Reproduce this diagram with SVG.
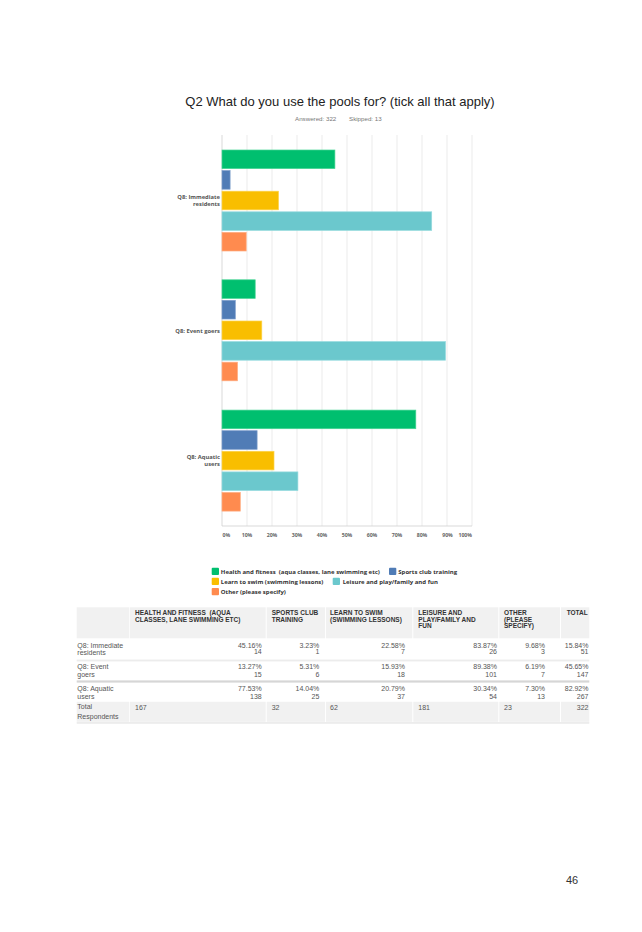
<svg xmlns="http://www.w3.org/2000/svg" width="642" height="932" viewBox="0 0 642 932">
<style>
.title{font-family:"Liberation Sans",Arial,sans-serif;font-size:13px;fill:#222}
.sub{font-family:"Liberation Sans",Arial,sans-serif;font-size:6.2px;fill:#777}
.grid{stroke:#e6e6e6;stroke-width:0.8}
.axis{stroke:#cfcfcf;stroke-width:0.8}
.lbl{font-family:"Open Sans","Liberation Sans",sans-serif;font-weight:bold;font-size:5.8px;fill:#555}
.tick{font-family:"Open Sans","Liberation Sans",sans-serif;font-weight:bold;font-size:5.2px;fill:#666}
.leg{font-family:"Open Sans","Liberation Sans",sans-serif;font-weight:bold;font-size:6px;fill:#333}
.g{fill:#00BF6F;stroke:#45d493;stroke-width:0.7}
.b{fill:#507CB6;stroke:#7c9dcb;stroke-width:0.7}
.y{fill:#F9BE00;stroke:#fcd34a;stroke-width:0.7}
.t{fill:#6BC8CD;stroke:#95dade;stroke-width:0.7}
.o{fill:#FF8B4F;stroke:#ffac80;stroke-width:0.7}
.hc{fill:#f1f1f1}
.th{font-family:"Liberation Sans",Arial,sans-serif;font-weight:bold;font-size:6.5px;fill:#333}
.td{font-family:"Liberation Sans",Arial,sans-serif;font-size:7px;fill:#555}
.r{text-anchor:end}
.page{font-family:"Liberation Sans",Arial,sans-serif;font-size:11px;fill:#333}
</style>
<rect width="642" height="932" fill="#ffffff"/>
<g id="title">
<text class="title" x="340" y="106" text-anchor="middle">Q2 What do you use the pools for? (tick all that apply)</text>
<text class="sub" x="295" y="120.5">Answered: 322</text>
<text class="sub" x="349" y="120.5">Skipped: 13</text>
</g>
<g id="grid">
<line class="grid" x1="247" y1="135" x2="247" y2="526"/>
<line class="grid" x1="272" y1="135" x2="272" y2="526"/>
<line class="grid" x1="297" y1="135" x2="297" y2="526"/>
<line class="grid" x1="322" y1="135" x2="322" y2="526"/>
<line class="grid" x1="347" y1="135" x2="347" y2="526"/>
<line class="grid" x1="372" y1="135" x2="372" y2="526"/>
<line class="grid" x1="397" y1="135" x2="397" y2="526"/>
<line class="grid" x1="422" y1="135" x2="422" y2="526"/>
<line class="grid" x1="447" y1="135" x2="447" y2="526"/>
<line class="grid" x1="472" y1="135" x2="472" y2="526"/>
<line class="axis" x1="222" y1="135" x2="222" y2="526"/>
<line class="axis" x1="222" y1="526" x2="472" y2="526"/>
</g>
<g id="axis-labels">
<text class="tick" x="222.5" y="537">0%</text>
<text class="tick" x="247" y="537" text-anchor="middle">10%</text>
<text class="tick" x="272" y="537" text-anchor="middle">20%</text>
<text class="tick" x="297" y="537" text-anchor="middle">30%</text>
<text class="tick" x="322" y="537" text-anchor="middle">40%</text>
<text class="tick" x="347" y="537" text-anchor="middle">50%</text>
<text class="tick" x="372" y="537" text-anchor="middle">60%</text>
<text class="tick" x="397" y="537" text-anchor="middle">70%</text>
<text class="tick" x="422" y="537" text-anchor="middle">80%</text>
<text class="tick" x="447.5" y="537" text-anchor="middle">90%</text>
<text class="tick" x="472" y="537" text-anchor="end">100%</text>
</g>
<g id="group-immediate-residents">
<text class="lbl r" x="220" y="198.8">Q8: Immediate</text>
<text class="lbl r" x="220" y="206">residents</text>
<rect class="g" x="222" y="150" width="112.9" height="18.6"/>
<rect class="b" x="222" y="170.6" width="8.1" height="18.6"/>
<rect class="y" x="222" y="191.2" width="56.5" height="18.6"/>
<rect class="t" x="222" y="211.8" width="209.7" height="18.6"/>
<rect class="o" x="222" y="232.4" width="24.2" height="18.6"/>
</g>
<g id="group-event-goers">
<text class="lbl r" x="220" y="333">Q8: Event goers</text>
<rect class="g" x="222" y="279.8" width="33.2" height="18.6"/>
<rect class="b" x="222" y="300.4" width="13.3" height="18.6"/>
<rect class="y" x="222" y="321" width="39.8" height="18.6"/>
<rect class="t" x="222" y="341.6" width="223.5" height="18.6"/>
<rect class="o" x="222" y="362.2" width="15.5" height="18.6"/>
</g>
<g id="group-aquatic-users">
<text class="lbl r" x="220" y="458.8">Q8: Aquatic</text>
<text class="lbl r" x="220" y="466">users</text>
<rect class="g" x="222" y="410.1" width="193.8" height="18.6"/>
<rect class="b" x="222" y="430.7" width="35.1" height="18.6"/>
<rect class="y" x="222" y="451.3" width="52" height="18.6"/>
<rect class="t" x="222" y="471.9" width="75.9" height="18.6"/>
<rect class="o" x="222" y="492.5" width="18.3" height="18.6"/>
</g>
<g id="legend">
<rect x="211.7" y="567.7" width="7.3" height="7.3" rx="1" fill="#00BF6F"/>
<text class="leg" x="220.8" y="573.6" xml:space="preserve">Health and fitness  (aqua classes, lane swimming etc)</text>
<rect x="389" y="567.7" width="7.3" height="7.3" rx="1" fill="#507CB6"/>
<text class="leg" x="398.3" y="573.6">Sports club training</text>
<rect x="211.7" y="577.7" width="7.3" height="7.3" rx="1" fill="#F9BE00"/>
<text class="leg" x="220.8" y="583.6">Learn to swim (swimming lessons)</text>
<rect x="332.7" y="577.7" width="7.3" height="7.3" rx="1" fill="#6BC8CD"/>
<text class="leg" x="342.7" y="583.6">Leisure and play/family and fun</text>
<rect x="211.7" y="588" width="7.3" height="7.3" rx="1" fill="#FF8B4F"/>
<text class="leg" x="220.8" y="593.9">Other (please specify)</text>
</g>
<g id="table">
<g id="table-header">
<rect class="hc" x="76.7" y="607.3" width="52.6" height="31"/>
<rect class="hc" x="130" y="607.3" width="135.7" height="31"/>
<rect class="hc" x="266.7" y="607.3" width="58.3" height="31"/>
<rect class="hc" x="325.9" y="607.3" width="86.4" height="31"/>
<rect class="hc" x="413.3" y="607.3" width="85" height="31"/>
<rect class="hc" x="499.3" y="607.3" width="60.7" height="31"/>
<rect class="hc" x="561" y="607.3" width="28.3" height="31"/>
<text class="th" x="135" y="615" xml:space="preserve">HEALTH AND FITNESS  (AQUA</text>
<text class="th" x="135" y="621.7">CLASSES, LANE SWIMMING ETC)</text>
<text class="th" x="271.7" y="615">SPORTS CLUB</text>
<text class="th" x="271.7" y="621.7">TRAINING</text>
<text class="th" x="330" y="615">LEARN TO SWIM</text>
<text class="th" x="330" y="621.7">(SWIMMING LESSONS)</text>
<text class="th" x="418.3" y="615">LEISURE AND</text>
<text class="th" x="418.3" y="621.7">PLAY/FAMILY AND</text>
<text class="th" x="418.3" y="628.4">FUN</text>
<text class="th" x="504" y="615">OTHER</text>
<text class="th" x="504" y="621.7">(PLEASE</text>
<text class="th" x="504" y="628.4">SPECIFY)</text>
<text class="th" x="566.7" y="615">TOTAL</text>
</g>
<g id="table-lines">
<rect x="76.7" y="659.6" width="512.6" height="1.8" fill="#ececec"/>
<rect x="76.7" y="680.4" width="512.6" height="2.2" fill="#d6d6d6"/>
<rect x="76.7" y="722" width="512.6" height="1.8" fill="#ececec"/>
</g>
<g id="row-immediate-residents">
<text class="td" x="77.3" y="647.5">Q8: Immediate</text>
<text class="td" x="77.3" y="655.2">residents</text>
<text class="td r" x="261.7" y="647.5">45.16%</text>
<text class="td r" x="261.7" y="654.4">14</text>
<text class="td r" x="319.3" y="647.5">3.23%</text>
<text class="td r" x="319.3" y="654.4">1</text>
<text class="td r" x="405" y="647.5">22.58%</text>
<text class="td r" x="405" y="654.4">7</text>
<text class="td r" x="497" y="647.5">83.87%</text>
<text class="td r" x="497" y="654.4">26</text>
<text class="td r" x="545" y="647.5">9.68%</text>
<text class="td r" x="545" y="654.4">3</text>
<text class="td r" x="588.5" y="647.5">15.84%</text>
<text class="td r" x="588.5" y="654.4">51</text>
</g>
<g id="row-event-goers">
<text class="td" x="77.3" y="669.2">Q8: Event</text>
<text class="td" x="77.3" y="676.5">goers</text>
<text class="td r" x="261.7" y="669.2">13.27%</text>
<text class="td r" x="261.7" y="676.5">15</text>
<text class="td r" x="319.3" y="669.2">5.31%</text>
<text class="td r" x="319.3" y="676.5">6</text>
<text class="td r" x="405" y="669.2">15.93%</text>
<text class="td r" x="405" y="676.5">18</text>
<text class="td r" x="497" y="669.2">89.38%</text>
<text class="td r" x="497" y="676.5">101</text>
<text class="td r" x="545" y="669.2">6.19%</text>
<text class="td r" x="545" y="676.5">7</text>
<text class="td r" x="588.5" y="669.2">45.65%</text>
<text class="td r" x="588.5" y="676.5">147</text>
</g>
<g id="row-aquatic-users">
<text class="td" x="77.3" y="690.8">Q8: Aquatic</text>
<text class="td" x="77.3" y="698.5">users</text>
<text class="td r" x="261.7" y="690.8">77.53%</text>
<text class="td r" x="261.7" y="698.5">138</text>
<text class="td r" x="319.3" y="690.8">14.04%</text>
<text class="td r" x="319.3" y="698.5">25</text>
<text class="td r" x="405" y="690.8">20.79%</text>
<text class="td r" x="405" y="698.5">37</text>
<text class="td r" x="497" y="690.8">30.34%</text>
<text class="td r" x="497" y="698.5">54</text>
<text class="td r" x="545" y="690.8">7.30%</text>
<text class="td r" x="545" y="698.5">13</text>
<text class="td r" x="588.5" y="690.8">82.92%</text>
<text class="td r" x="588.5" y="698.5">267</text>
</g>
<g id="row-total">
<rect class="hc" x="76.7" y="701.8" width="52.6" height="20"/>
<rect class="hc" x="130" y="701.8" width="135.7" height="20"/>
<rect class="hc" x="266.7" y="701.8" width="58.3" height="20"/>
<rect class="hc" x="325.9" y="701.8" width="86.4" height="20"/>
<rect class="hc" x="413.3" y="701.8" width="85" height="20"/>
<rect class="hc" x="499.3" y="701.8" width="60.7" height="20"/>
<rect class="hc" x="561" y="701.8" width="28.3" height="20"/>
<text class="td" x="77.3" y="709.2">Total</text>
<text class="td" x="77.3" y="718.5">Respondents</text>
<text class="td" x="135" y="709.8">167</text>
<text class="td" x="271.7" y="709.8">32</text>
<text class="td" x="330" y="709.8">62</text>
<text class="td" x="418.3" y="709.8">181</text>
<text class="td" x="504" y="709.8">23</text>
<text class="td r" x="588.5" y="709.8">322</text>
</g>
</g>
<g id="page-number">
<text class="page" x="566" y="883.5">46</text>
</g>
</svg>
